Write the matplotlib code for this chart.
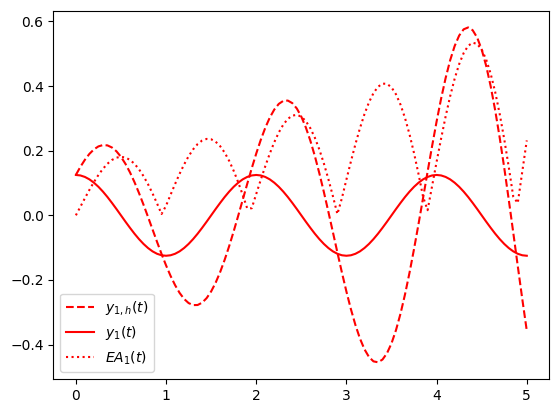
import numpy as np
import matplotlib
matplotlib.use("Agg")
import matplotlib.pyplot as plt

# sample times, step 0.05
t = np.linspace(0, 5, 101)

y1h = [
    0.1251, 0.1501, 0.1720, 0.1902, 0.2041, 0.2134, 0.2175, 0.2165, 0.2100, 0.1982,
    0.1812, 0.1593, 0.1330, 0.1027, 0.0691, 0.0330, -0.0048, -0.0435, -0.0820, -0.1194,
    -0.1548, -0.1873, -0.2159, -0.2399, -0.2586, -0.2714, -0.2777, -0.2774, -0.2702, -0.2561,
    -0.2354, -0.2083, -0.1754, -0.1374, -0.0951, -0.0493, -0.0013, 0.0480, 0.0974, 0.1455,
    0.1913, 0.2334, 0.2708, 0.3025, 0.3274, 0.3449, 0.3543, 0.3552, 0.3473, 0.3306,
    0.3054, 0.2720, 0.2311, 0.1834, 0.1300, 0.0721, 0.0110, -0.0519, -0.1150, -0.1769,
    -0.2359, -0.2906, -0.3394, -0.3811, -0.4143, -0.4382, -0.4518, -0.4546, -0.4462, -0.4266,
    -0.3960, -0.3548, -0.3039, -0.2442, -0.1770, -0.1037, -0.0261, 0.0540, 0.1349, 0.2143,
    0.2905, 0.3613, 0.4249, 0.4797, 0.5239, 0.5563, 0.5757, 0.5815, 0.5729, 0.5500,
    0.5130, 0.4624, 0.3991, 0.3244, 0.2398, 0.1472, 0.0487, -0.0534, -0.1568, -0.2588,
    -0.3569,
]

y1 = [
    0.1250, 0.1235, 0.1189, 0.1114, 0.1011, 0.0884, 0.0735, 0.0568, 0.0386, 0.0196,
    0.0000, -0.0196, -0.0386, -0.0568, -0.0735, -0.0884, -0.1011, -0.1114, -0.1189, -0.1235,
    -0.1250, -0.1235, -0.1189, -0.1114, -0.1011, -0.0884, -0.0735, -0.0568, -0.0386, -0.0196,
    0.0000, 0.0196, 0.0386, 0.0568, 0.0735, 0.0884, 0.1011, 0.1114, 0.1189, 0.1235,
    0.1250, 0.1235, 0.1189, 0.1114, 0.1011, 0.0884, 0.0735, 0.0568, 0.0386, 0.0196,
    0.0000, -0.0196, -0.0386, -0.0568, -0.0735, -0.0884, -0.1011, -0.1114, -0.1189, -0.1235,
    -0.1250, -0.1235, -0.1189, -0.1114, -0.1011, -0.0884, -0.0735, -0.0568, -0.0386, -0.0196,
    0.0000, 0.0196, 0.0386, 0.0568, 0.0735, 0.0884, 0.1011, 0.1114, 0.1189, 0.1235,
    0.1250, 0.1235, 0.1189, 0.1114, 0.1011, 0.0884, 0.0735, 0.0568, 0.0386, 0.0196,
    0.0000, -0.0196, -0.0386, -0.0568, -0.0735, -0.0884, -0.1011, -0.1114, -0.1189, -0.1235,
    -0.1250,
]

ea1 = [
    0.0001, 0.0266, 0.0531, 0.0788, 0.1030, 0.1250, 0.1440, 0.1597, 0.1714, 0.1786,
    0.1812, 0.1789, 0.1716, 0.1595, 0.1426, 0.1214, 0.0963, 0.0679, 0.0369, 0.0041,
    0.0298, 0.0638, 0.0970, 0.1285, 0.1575, 0.1830, 0.2042, 0.2206, 0.2316, 0.2365,
    0.2354, 0.2279, 0.2140, 0.1942, 0.1686, 0.1377, 0.1024, 0.0634, 0.0215, 0.0220,
    0.0663, 0.1099, 0.1519, 0.1911, 0.2263, 0.2565, 0.2808, 0.2984, 0.3087, 0.3110,
    0.3054, 0.2916, 0.2697, 0.2402, 0.2035, 0.1605, 0.1121, 0.0595, 0.0039, 0.0534,
    0.1109, 0.1671, 0.2205, 0.2697, 0.3132, 0.3498, 0.3783, 0.3978, 0.4076, 0.4070,
    0.3960, 0.3744, 0.3425, 0.3010, 0.2505, 0.1921, 0.1272, 0.0574, 0.0160, 0.0908,
    0.1655, 0.2378, 0.3060, 0.3683, 0.4228, 0.4679, 0.5022, 0.5247, 0.5343, 0.5304,
    0.5130, 0.4820, 0.4377, 0.3812, 0.3133, 0.2356, 0.1498, 0.0580, 0.0379, 0.1353,
    0.2319,
]

fig = plt.figure(figsize=(5.59, 4.13), dpi=100)
ax = fig.add_axes([0.0954, 0.0823, 0.8873, 0.8918])

ax.plot(t, y1h, 'r--', label=r'$y_{1,h}(t)$')
ax.plot(t, y1, 'r-', label=r'$y_1(t)$')
ax.plot(t, ea1, 'r:', label=r'$EA_1(t)$')
ax.legend(loc='lower left')

fig.savefig('out.png', dpi=100)
